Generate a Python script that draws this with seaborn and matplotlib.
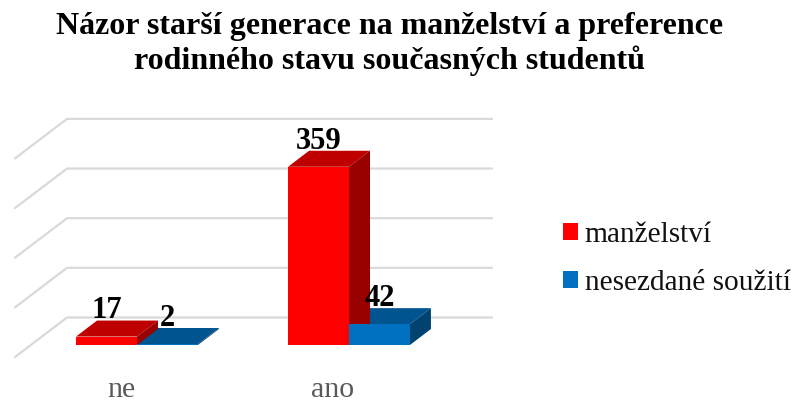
import matplotlib
matplotlib.use("Agg")
import matplotlib.pyplot as plt
import numpy as np
import pandas as pd
import seaborn as sns

# --- Data ---
CATEGORIES = ['ne', 'ano']
SERIES = ['manželství', 'nesezdané soužití']
MANZELSTVI = [17, 359]
NESEZDANE = [2, 42]
GRID_VALUES = [0, 100, 200, 300, 400]
TITLE = 'Názor starší generace na manželství a preference\nrodinného stavu současných studentů'

# --- Style and pixel layout ---
W, H = 792, 403
FRONT = {'manželství': '#FF0000', 'nesezdané soužití': '#0070C0'}
TOP = {'manželství': '#BE0000', 'nesezdané soužití': '#005490'}
SIDE = {'manželství': '#990000', 'nesezdané soužití': '#004370'}
GRID_COLOR = '#D9D9D9'

PX_PER_CAT = 212.0
PX_PER_UNIT = 0.4965
BASE_X, BASE_Y = 137.0, 345.0  # pixel of category 0 centre and of value 0
AX_L, AX_R, AX_T, AX_B = 15, 492, 118, 357

sns.set_theme(style="white")
plt.rcParams['font.family'] = ['Liberation Serif', 'DejaVu Serif']


def px_x(px):
    return px / PX_PER_CAT


def px_y(px):
    return px / PX_PER_UNIT


def draw_box(ax, bar, name):
    """Adds the top and side faces to one seaborn bar."""
    dx, dy = px_x(21), px_y(16)
    x0, x1 = bar.get_x(), bar.get_x() + bar.get_width()
    h = bar.get_height()
    ax.fill([x0, x1, x1 + dx, x0 + dx], [h, h, h + dy, h + dy],
            color=TOP[name], lw=0, zorder=2, clip_on=False)
    ax.fill([x1, x1 + dx, x1 + dx, x1], [0, dy, h + dy, h],
            color=SIDE[name], lw=0, zorder=2, clip_on=False)
    ax.annotate(f'{h:.0f}', ((x0 + x1) / 2, h + dy), xytext=(0, 1.5),
                textcoords='offset points', ha='center', va='baseline',
                fontsize=22, fontweight='bold', color='black', zorder=5)


def main():
    df = pd.DataFrame({
        'kategorie': CATEGORIES * 2,
        'stav': [SERIES[0]] * 2 + [SERIES[1]] * 2,
        'pocet': MANZELSTVI + NESEZDANE,
    })

    fig = plt.figure(figsize=(W / 100, H / 100), dpi=100)
    ax = fig.add_axes([AX_L / W, 1 - AX_B / H, (AX_R - AX_L) / W, (AX_B - AX_T) / H])

    sns.barplot(data=df, x='kategorie', y='pocet', hue='stav', order=CATEGORIES,
                hue_order=SERIES, palette=FRONT, width=0.575, gap=0, saturation=1,
                linewidth=0, ax=ax, zorder=3)

    ax.set_xlim(px_x(AX_L - BASE_X), px_x(AX_R - BASE_X))
    ax.set_ylim(px_y(BASE_Y - AX_B), px_y(BASE_Y - AX_T))

    # back wall and side wall lines
    back_dy = px_y(BASE_Y - 317.5)
    front_dy = px_y(BASE_Y - 357)
    x_front, x_back = px_x(15 - BASE_X), px_x(67 - BASE_X)
    for v in GRID_VALUES:
        ax.plot([x_front, x_back, px_x(AX_R - BASE_X)],
                [v + front_dy, v + back_dy, v + back_dy],
                color=GRID_COLOR, lw=1.6, zorder=0.5, clip_on=False)

    # blue first so the red box sits on top of it
    for name, container in reversed(list(zip(SERIES, ax.containers))):
        for bar in container:
            draw_box(ax, bar, name)

    for s in ax.spines.values():
        s.set_visible(False)
    ax.set_xlabel('')
    ax.set_ylabel('')
    ax.set_yticks([])
    ax.set_xticks(np.arange(len(CATEGORIES)) + px_x(-16), CATEGORIES)
    ax.tick_params(axis='x', length=0, pad=14.5, labelsize=21.5, labelcolor='#595959')

    handles, labels = ax.get_legend_handles_labels()
    ax.legend(handles, labels, loc='center left', frameon=False, fontsize=21.2,
              bbox_to_anchor=(553 / W, 1 - 259 / H), bbox_transform=fig.transFigure,
              handlelength=0.51, handleheight=0.51, handletextpad=0.22, labelspacing=0.76,
              borderpad=0.34, borderaxespad=0, labelcolor='#111111')

    fig.text(389.5 / W, 1 - 12 / H, TITLE, ha='center', va='top', fontsize=23,
             fontweight='bold', color='black', linespacing=1.21)

    fig.savefig('out.png', dpi=100)


if __name__ == "__main__":
    main()
